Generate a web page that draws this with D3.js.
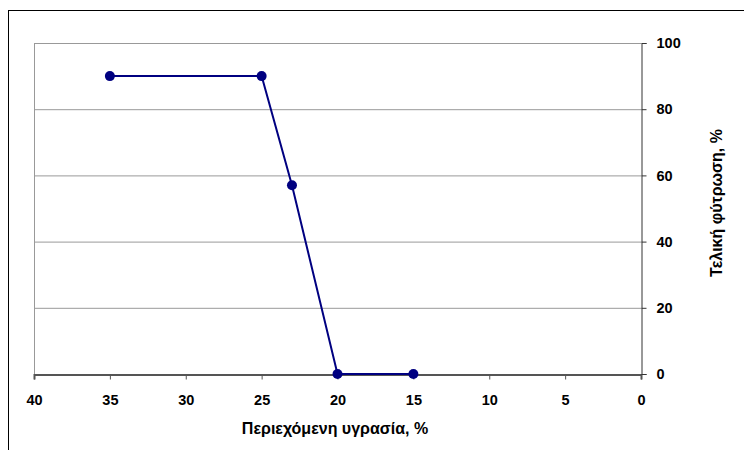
<!DOCTYPE html>
<html><head><meta charset="utf-8">
<script src="https://cdn.jsdelivr.net/npm/d3@7"></script>
<style>html,body{margin:0;padding:0;background:#fff;}svg{display:block;}</style>
</head><body>
<svg id="c" width="744" height="450"></svg>
<script>
const moisture = [35, 25, 23, 20, 15];
const germination = [90, 90, 57, 0, 0];
const xTicks = [40, 35, 30, 25, 20, 15, 10, 5, 0];
const yTicks = [0, 20, 40, 60, 80, 100];
const xTitle = "Περιεχόμενη υγρασία, %";
const yTitle = "Τελική φύτρωση, %";

const svg = d3.select("#c");
const font = "'Liberation Sans', Arial, sans-serif";
// outer chart frame (extends past the window)
svg.append("rect").attr("x", 8.5).attr("y", 10.5).attr("width", 900).attr("height", 600)
  .attr("fill", "none").attr("stroke", "#000").attr("stroke-width", 1);

const L = 34, R = 641, T = 43, B = 374;
const x = d3.scaleLinear().domain([40, 0]).range([L, R]);
const y = d3.scaleLinear().domain([0, 100]).range([B, T]);

// gridlines
svg.append("g").selectAll("line").data(yTicks.filter(d => d > 0)).join("line")
  .attr("x1", L).attr("x2", R).attr("y1", d => y(d) + 0.5).attr("y2", d => y(d) + 0.5)
  .attr("stroke", "#999").attr("stroke-width", 1);
// left plot border
svg.append("line").attr("x1", L + 0.5).attr("x2", L + 0.5).attr("y1", T).attr("y2", B)
  .attr("stroke", "#999");

// x axis
const xa = svg.append("g").attr("transform", `translate(0,${B + 0.5})`)
  .call(d3.axisBottom(x).tickValues(xTicks).tickSize(5).tickPadding(15).tickFormat(d3.format("d")));
xa.select(".domain").attr("stroke", "#555").attr("stroke-width", 2);
xa.selectAll(".tick line").attr("stroke", "#555");
xa.selectAll("text").attr("font-family", font).attr("font-size", 14.5).attr("font-weight", "bold").attr("fill", "#000");

// y axis on right
const ya = svg.append("g").attr("transform", `translate(${R + 0.5},0)`)
  .call(d3.axisRight(y).tickValues(yTicks).tickSize(5).tickPadding(10));
ya.select(".domain").attr("stroke", "#333").attr("stroke-width", 1);
ya.selectAll(".tick line").attr("stroke", "#333");
ya.selectAll("text").attr("font-family", font).attr("font-size", 14.5).attr("font-weight", "bold").attr("fill", "#000");

// line + markers
const pts = moisture.map((m, i) => [m, germination[i]]);
svg.append("path").datum(pts)
  .attr("d", d3.line().x(d => x(d[0])).y(d => y(d[1])))
  .attr("fill", "none").attr("stroke", "#000080").attr("stroke-width", 2);
svg.append("g").selectAll("circle").data(pts).join("circle")
  .attr("cx", d => x(d[0])).attr("cy", d => y(d[1])).attr("r", 5)
  .attr("fill", "#000080");

// titles
svg.append("text").attr("x", 335).attr("y", 434).attr("text-anchor", "middle")
  .attr("font-family", font).attr("font-size", 16).attr("font-weight", "bold").text(xTitle);
svg.append("text").attr("transform", "translate(722,203) rotate(-90)").attr("text-anchor", "middle")
  .attr("font-family", font).attr("font-size", 16).attr("font-weight", "bold").text(yTitle);
</script>
</body></html>
